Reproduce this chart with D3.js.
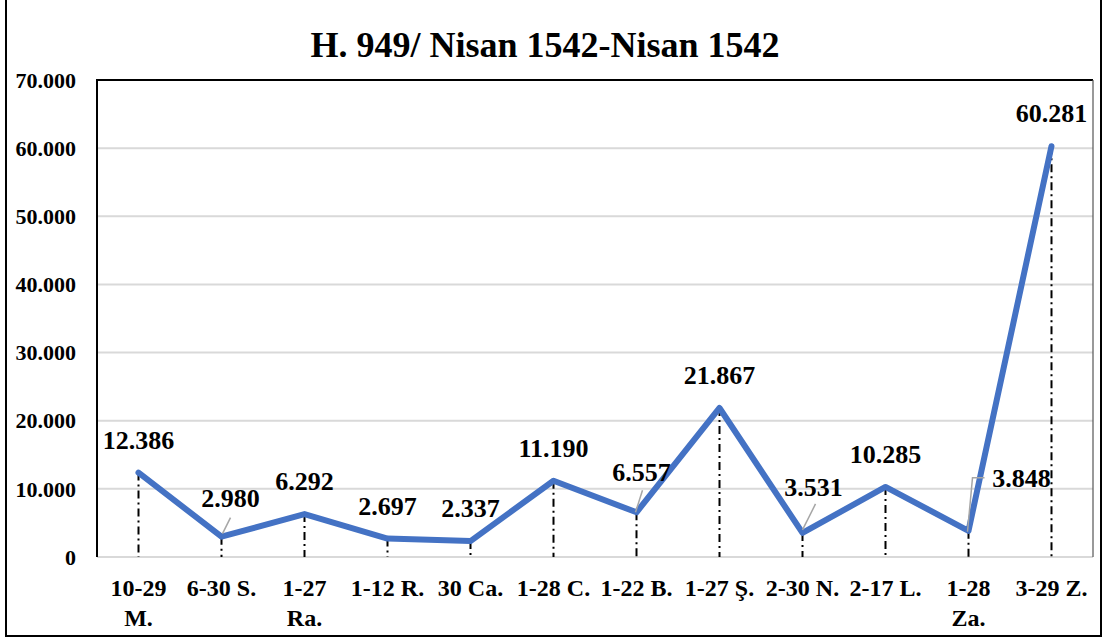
<!DOCTYPE html>
<html><head><meta charset="utf-8">
<script src="https://cdn.jsdelivr.net/npm/d3@7/dist/d3.min.js"></script>
<style>body{margin:0;background:#fff}svg{display:block}text{font-family:"Liberation Serif","Times New Roman",serif;font-weight:bold;fill:#000}</style>
</head><body><svg id="c" width="1103" height="640"></svg>
<script>
const title = "H. 949/ Nisan 1542-Nisan 1542";
const categories = [["10-29","M."],["6-30 S."],["1-27","Ra."],["1-12 R."],["30 Ca."],["1-28 C."],["1-22 B."],["1-27 Ş."],["2-30 N."],["2-17 L."],["1-28","Za."],["3-29 Z."]];
const values = [12386, 2980, 6292, 2697, 2337, 11190, 6557, 21867, 3531, 10285, 3848, 60281];
const valueLabels = ["12.386","2.980","6.292","2.697","2.337","11.190","6.557","21.867","3.531","10.285","3.848","60.281"];
const yTicks = [0,10000,20000,30000,40000,50000,60000,70000];
const yTickLabels = ["0","10.000","20.000","30.000","40.000","50.000","60.000","70.000"];

// layout: label offsets (dx, dy of label centre from point) and leader lines
const labelOffsets = {1:[9,-39],6:[5,-40],8:[11,-46],10:[53,-53]};
const leaders = {1:[[1,-3],[9,-19]],6:[[-1,0],[6,-22]],8:[[0,-3],[13,-29]],10:[[-1,1],[4,-53],[16,-53]]};

const svg = d3.select("#c");
const M = {l:97, r:1093, t:80, b:557};
const x = d3.scaleBand().domain(d3.range(categories.length)).range([M.l, M.r]);
const y = d3.scaleLinear().domain([0,70000]).range([M.b, M.t]);
const cx = i => x(i) + x.bandwidth()/2;

// outer frame
svg.append("rect").attr("x",6).attr("y",-5).attr("width",1095).attr("height",641)
  .attr("fill","none").attr("stroke","#000").attr("stroke-width",2);

svg.append("text").attr("x",545).attr("y",57).attr("text-anchor","middle")
  .attr("font-size",36).text(title);

// gridlines
svg.append("g").selectAll("line").data(yTicks.slice(0,-1)).join("line")
  .attr("x1",M.l).attr("x2",M.r).attr("y1",d=>y(d)).attr("y2",d=>y(d))
  .attr("stroke","#d9d9d9").attr("stroke-width",2);

// plot border
svg.append("path").attr("d",`M${M.l},${M.b}V${M.t}H${M.r}`).attr("fill","none").attr("stroke","#000").attr("stroke-width",2);
svg.append("line").attr("x1",M.r).attr("x2",M.r).attr("y1",M.t).attr("y2",M.b).attr("stroke","#555").attr("stroke-width",1.2);

// y tick labels
svg.append("g").selectAll("text").data(yTicks).join("text")
  .attr("x",76).attr("y",d=>y(d)).attr("dy","0.35em").attr("text-anchor","end")
  .attr("font-size",22).text((d,i)=>yTickLabels[i]);

// drop lines
svg.append("g").selectAll("line").data(values).join("line")
  .attr("x1",(d,i)=>cx(i)).attr("x2",(d,i)=>cx(i)).attr("y1",d=>y(d)).attr("y2",M.b)
  .attr("stroke","#000").attr("stroke-width",2).attr("stroke-dasharray","8,4,2,4");

// line
svg.append("path").datum(values)
  .attr("d", d3.line().x((d,i)=>cx(i)).y(d=>y(d)))
  .attr("fill","none").attr("stroke","#4472C4").attr("stroke-width",6)
  .attr("stroke-linejoin","round").attr("stroke-linecap","round");

// leader lines
Object.entries(leaders).forEach(([k,pts])=>{
  const i=+k, px=cx(i), py=y(values[i]);
  svg.append("path").attr("d", d3.line()(pts.map(p=>[px+p[0],py+p[1]])))
    .attr("fill","none").attr("stroke","#a6a6a6").attr("stroke-width",1.5);
});

// data labels
svg.append("g").selectAll("text").data(values).join("text")
  .attr("x",(d,i)=>cx(i)+(labelOffsets[i]?labelOffsets[i][0]:0))
  .attr("y",(d,i)=>y(d)+(labelOffsets[i]?labelOffsets[i][1]:-33))
  .attr("dy","0.35em").attr("text-anchor","middle").attr("font-size",26)
  .text((d,i)=>valueLabels[i]);

// x labels
const xl = svg.append("g").selectAll("text").data(categories).join("text")
  .attr("text-anchor","middle").attr("font-size",24);
xl.each(function(lines,i){
  const t=d3.select(this);
  lines.forEach((s,j)=>t.append("tspan").attr("x",cx(i)).attr("y",588+j*30).attr("dy","0.35em").text(s));
});
</script></body></html>
